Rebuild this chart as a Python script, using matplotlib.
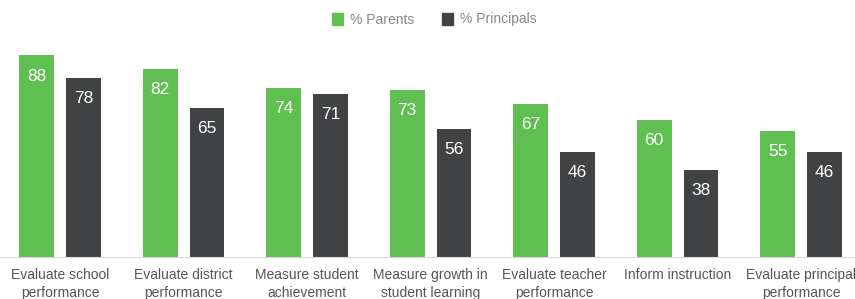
import numpy as np
import matplotlib.pyplot as plt
from matplotlib.patches import Patch

categories = ["Evaluate school\nperformance", "Evaluate district\nperformance",
              "Measure student\nachievement", "Measure growth in\nstudent learning",
              "Evaluate teacher\nperformance", "Inform instruction",
              "Evaluate principal\nperformance"]
parents = [88, 82, 74, 73, 67, 60, 55]
principals = [78, 65, 71, 56, 46, 38, 46]

green = "#5fbf50"
dark = "#404244"

plt.rcParams['font.family'] = ['Liberation Sans', 'DejaVu Sans']

fig = plt.figure(figsize=(8.55, 2.99), dpi=100)
ax = fig.add_axes([0, 0.1405, 1, 0.766])

x = np.arange(len(categories))
w = 0.283
off = 0.19
b1 = ax.bar(x - off, parents, w, color=green)
b2 = ax.bar(x + off, principals, w, color=dark)

for bars in (b1, b2):
    for r in bars:
        ax.text(r.get_x() + r.get_width() / 2, r.get_height() - 9, f"{int(r.get_height())}",
                ha='center', va='center', color='white', fontsize=12.5)

ax.set_xlim(-0.486, 6.437)
ax.set_ylim(0, 100)
ax.set_xticks(x)
ax.set_xticklabels(categories, fontsize=10, color='#555555', linespacing=1.35)
ax.tick_params(axis='x', length=0, pad=8)
ax.set_yticks([])
for s in ['top', 'right', 'left']:
    ax.spines[s].set_visible(False)
ax.spines['bottom'].set_color('#d9d9d9')

handles = [Patch(color=green, label='% Parents'), Patch(color=dark, label='% Principals')]
fig.legend(handles=handles, loc='upper center', bbox_to_anchor=(0.508, 1.0), ncol=2,
           frameon=False, fontsize=10, labelcolor='#888888', handlelength=0.8,
           handleheight=1.0, handletextpad=0.5, columnspacing=2.0)

fig.savefig("out.png", dpi=100)
